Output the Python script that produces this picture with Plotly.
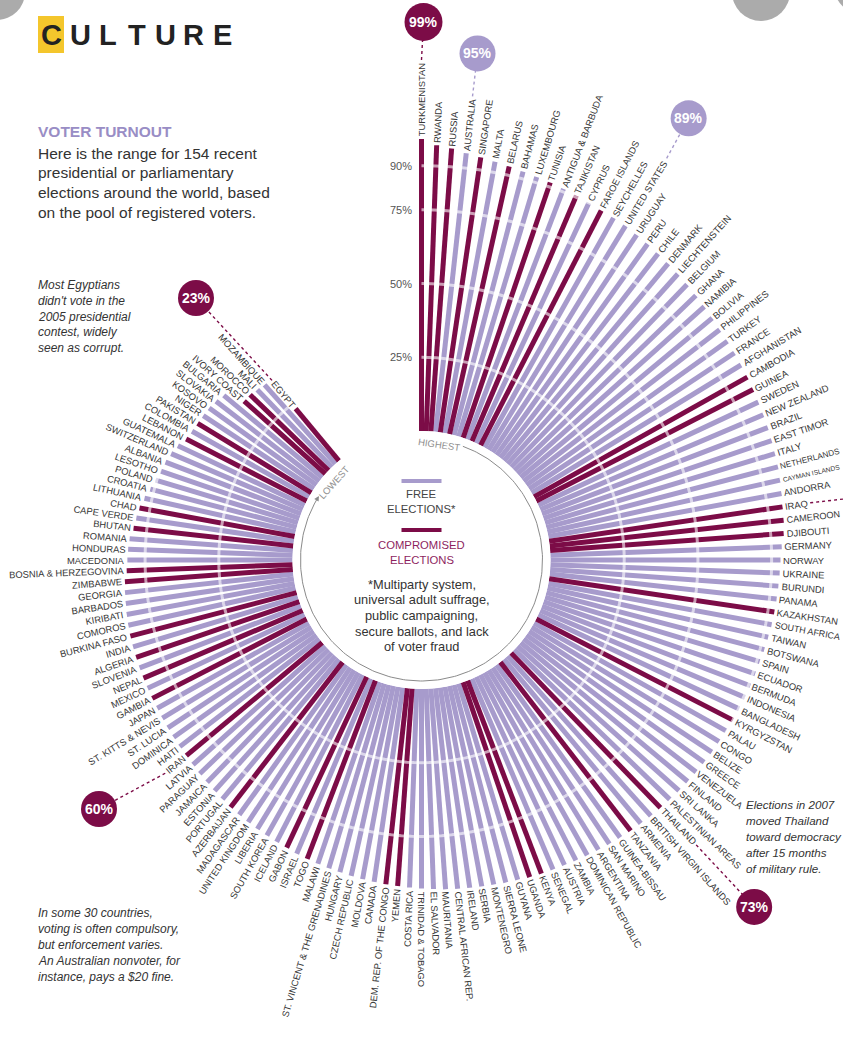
import math
import numpy as np
import plotly.graph_objects as go

W, H = 843, 1039

# ---------------- data ----------------
countries = [
    "TURKMENISTAN", "RWANDA", "RUSSIA", "AUSTRALIA", "SINGAPORE", "MALTA", "BELARUS", "BAHAMAS",
    "LUXEMBOURG", "TUNISIA", "ANTIGUA & BARBUDA", "TAJIKISTAN", "CYPRUS", "FAROE ISLANDS",
    "SEYCHELLES", "UNITED STATES", "URUGUAY", "PERU", "CHILE", "DENMARK", "LIECHTENSTEIN",
    "BELGIUM", "GHANA", "NAMIBIA", "BOLIVIA", "PHILIPPINES", "TURKEY", "FRANCE", "AFGHANISTAN",
    "CAMBODIA", "GUINEA", "SWEDEN", "NEW ZEALAND", "BRAZIL", "EAST TIMOR", "ITALY", "NETHERLANDS",
    "CAYMAN ISLANDS", "ANDORRA", "IRAQ", "CAMEROON", "DJIBOUTI", "GERMANY", "NORWAY", "UKRAINE",
    "BURUNDI", "PANAMA", "KAZAKHSTAN", "SOUTH AFRICA", "TAIWAN", "BOTSWANA", "SPAIN", "ECUADOR",
    "BERMUDA", "INDONESIA", "BANGLADESH", "KYRGYZSTAN", "PALAU", "CONGO", "BELIZE", "GREECE",
    "VENEZUELA", "FINLAND", "SRI LANKA", "PALESTINIAN AREAS", "THAILAND", "BRITISH VIRGIN ISLANDS",
    "ARMENIA", "TANZANIA", "GUINEA-BISSAU", "SAN MARINO", "ARGENTINA", "DOMINICAN REPUBLIC",
    "ZAMBIA", "AUSTRIA", "SENEGAL", "KENYA", "UGANDA", "GUYANA", "SIERRA LEONE", "MONTENEGRO",
    "SERBIA", "IRELAND", "CENTRAL AFRICAN REP.", "MAURITANIA", "EL SALVADOR", "TRINIDAD & TOBAGO",
    "COSTA RICA", "YEMEN", "DEM. REP. OF THE CONGO", "CANADA", "MOLDOVA", "CZECH REPUBLIC",
    "HUNGARY", "ST. VINCENT & THE GRENADINES", "MALAWI", "TOGO", "ISRAEL", "GABON", "ICELAND",
    "SOUTH KOREA", "LIBERIA", "UNITED KINGDOM", "MADAGASCAR", "AZERBAIJAN", "PORTUGAL", "ESTONIA",
    "JAMAICA", "PARAGUAY", "LATVIA", "IRAN", "HAITI", "DOMINICA", "ST. LUCIA", "ST. KITTS & NEVIS",
    "JAPAN", "GAMBIA", "MEXICO", "NEPAL", "SLOVENIA", "ALGERIA", "INDIA", "BURKINA FASO",
    "COMOROS", "KIRIBATI", "BARBADOS", "GEORGIA", "ZIMBABWE", "BOSNIA & HERZEGOVINA", "MACEDONIA",
    "HONDURAS", "ROMANIA", "BHUTAN", "CAPE VERDE", "CHAD", "LITHUANIA", "CROATIA", "POLAND",
    "LESOTHO", "ALBANIA", "SWITZERLAND", "GUATEMALA", "LEBANON", "COLOMBIA", "PAKISTAN", "NIGER",
    "KOSOVO", "SLOVAKIA", "BULGARIA", "IVORY COAST", "MOROCCO", "MALI", "MOZAMBIQUE", "EGYPT",
]

turnout = [
    99, 97, 96.2, 95, 94.3, 93.6, 93, 92.4,
    91.9, 91.5, 91, 90.5, 90, 89.6,
    89.3, 89, 88.5, 88, 87.5, 87, 86.5,
    86, 85.5, 85, 84.5, 84, 83.8, 83.5, 83.2,
    83, 82.7, 82.4, 82.2, 82, 81.7, 81.4, 81.2,
    80.8, 80.4, 80, 79.8, 79.4, 78.5, 78, 77.8,
    77.6, 77.4, 77.2, 77, 76.7, 76.4, 76, 75.8,
    75.6, 75.4, 75.2, 75, 74.7, 74.5, 74.3, 74.1,
    73.9, 73.7, 73.5, 73.2, 73, 72.8,
    72.5, 72.3, 72, 71.7, 71.4, 71.1,
    70.8, 70.5, 70.3, 70.1, 69.9, 69.5, 69.3, 69,
    68.8, 68.6, 68.4, 68.2, 67.9, 67.7,
    67.4, 67.1, 66.9, 66.6, 66.3, 66,
    65.7, 65.4, 65.1, 64.8, 64.5, 64, 63.7,
    63.4, 63.1, 62.8, 62.5, 62.2, 61.8, 61.4,
    61, 60.7, 60.3, 60, 59.8, 59.6, 59.4, 59.2,
    59, 58.9, 58.8, 58.7, 58.6, 58.5, 58.4, 58.3,
    58.1, 57.9, 57.6, 57.4, 57.1, 56.3, 56,
    55.8, 55.5, 54.5, 54, 53.5, 52.5, 51.3, 50.4,
    49.7, 49.2, 48.5, 47.5, 46, 45.5, 45.2, 45,
    44.8, 44.3, 43.5, 37, 37, 36.5, 36, 23,
]

compromised = [
    "TURKMENISTAN", "RWANDA", "RUSSIA", "SINGAPORE", "BELARUS", "TUNISIA", "TAJIKISTAN",
    "FAROE ISLANDS", "CAMBODIA", "GUINEA", "IRAQ", "CAMEROON", "DJIBOUTI", "KAZAKHSTAN",
    "KYRGYZSTAN", "THAILAND", "TANZANIA", "KENYA", "UGANDA", "YEMEN", "DEM. REP. OF THE CONGO",
    "TOGO", "GABON", "AZERBAIJAN", "IRAN", "GAMBIA", "NEPAL", "ALGERIA", "BURKINA FASO",
    "ZIMBABWE", "BOSNIA & HERZEGOVINA", "BHUTAN", "CHAD", "LEBANON", "PAKISTAN", "IVORY COAST",
    "MOROCCO", "EGYPT",
]

grid_values = [25, 50, 75, 90]
grid_labels = ["25%", "50%", "75%", "90%"]

callout_names = ["TURKMENISTAN", "AUSTRALIA", "UNITED STATES", "IRAQ", "THAILAND", "IRAN", "EGYPT"]
callout_texts = ["99%", "95%", "89%", "", "73%", "60%", "23%"]

# ---------------- styling / geometry ----------------
LIGHT = "#a79bcc"
DARK = "#7c0c47"
DARK_TXT = "#8e1f5f"
LAV_TXT = "#998dc5"
FONT = "Liberation Sans, Arial, sans-serif"
NARROW = "Liberation Sans Narrow, Arial Narrow, Liberation Sans, Arial, sans-serif"

CX = W / 2.0
CY = 560.0
R = W / 2.0
R0 = 129.0
RMAX = 99.2
SCALE = (R - R0) / RMAX
PERIOD = 172
STEP = 360.0 / PERIOD
GAP = 3.0
LABEL_SIZE = 9.4

bubble_place = {
    "TURKMENISTAN": ("rel", 2, -38, 19),
    "AUSTRALIA": ("rel", 5, -43, 18),
    "UNITED STATES": ("rel", 22, -40, 18),
    "IRAQ": ("rel", 53, -6, 20),
    "THAILAND": ("rel", 58, 62, 18),
    "IRAN": ("abs", 99, 809, 18),
    "EGYPT": ("abs", 196, 298, 18),
}

EM = {'A': .667, 'B': .667, 'C': .722, 'D': .722, 'E': .667, 'F': .611, 'G': .778, 'H': .722,
      'I': .278, 'J': .5, 'K': .667, 'L': .556, 'M': .833, 'N': .722, 'O': .778, 'P': .667,
      'Q': .778, 'R': .722, 'S': .667, 'T': .611, 'U': .722, 'V': .667, 'W': .944, 'X': .667,
      'Y': .667, 'Z': .611, ' ': .278, '.': .278, '&': .667, '-': .333}


def em_width(s):
    return sum(EM.get(ch, 0.6) for ch in s)


def polar_xy(phi_deg, r):
    a = math.radians(phi_deg)
    return CX + r * math.sin(a), CY - r * math.cos(a)


def room_along_ray(phi_deg, r_start, pad=3):
    """Radial distance available from r_start before leaving the canvas."""
    a = math.radians(phi_deg)
    dx, dy = math.sin(a), -math.cos(a)
    lim = 1e9
    if dx > 1e-6:
        lim = min(lim, (W - pad - CX) / dx)
    if dx < -1e-6:
        lim = min(lim, (pad - CX) / dx)
    if dy > 1e-6:
        lim = min(lim, (H - pad - CY) / dy)
    if dy < -1e-6:
        lim = min(lim, (pad - CY) / dy)
    return lim - r_start


comp_set = set(compromised)

# ---------------- traces ----------------
free_r, free_t, comp_r, comp_t = [], [], [], []
for name, v in zip(countries, turnout):
    if name in comp_set:
        comp_r += [0, v, None]
        comp_t += [name, name, None]
    else:
        free_r += [0, v, None]
        free_t += [name, name, None]

grid_r, grid_t = [], []
for g in grid_values:
    grid_r += [g] * len(countries) + [None]
    grid_t += list(countries) + [None]

fig = go.Figure()

ARC_R = 121
arc_phi = np.linspace(20, 298, 240)
arc_x = [polar_xy(p, ARC_R)[0] for p in arc_phi]
arc_y = [polar_xy(p, ARC_R)[1] for p in arc_phi]
fig.add_trace(go.Scatter(x=arc_x, y=arc_y, mode="lines", line=dict(color="#8a8a8a", width=1),
                         hoverinfo="skip", showlegend=False, xaxis="x", yaxis="y"))

fig.add_trace(go.Scatterpolar(r=free_r, theta=free_t, mode="lines",
                              line=dict(color=LIGHT, width=5), hoverinfo="skip", showlegend=False))
fig.add_trace(go.Scatterpolar(r=comp_r, theta=comp_t, mode="lines",
                              line=dict(color=DARK, width=5), hoverinfo="skip", showlegend=False))
fig.add_trace(go.Scatterpolar(r=grid_r, theta=grid_t, mode="lines",
                              line=dict(color="rgba(255,255,255,0.6)", width=3),
                              hoverinfo="skip", showlegend=False))

annotations = []
shapes = []


def txt(x, y, s, size=11, color="#333", anchor="left", angle=0, family=FONT, yanchor="middle"):
    annotations.append(dict(x=x, y=y, xref="x", yref="y", text=s, showarrow=False,
                            xanchor=anchor, yanchor=yanchor, textangle=angle,
                            font=dict(family=family, size=size, color=color)))


label_end = {}
for i, (name, v) in enumerate(zip(countries, turnout)):
    phi = i * STEP
    r_end = R0 + v * SCALE
    r_lab = r_end + GAP
    size = LABEL_SIZE
    room = room_along_ray(phi, r_lab)
    if em_width(name) * size > room:
        size = max(6.5, room / em_width(name))
    x, y = polar_xy(phi, r_lab)
    disp = name.replace("&", "&amp;")
    inv = '<span style="color:rgba(0,0,0,0)">' + disp + '</span>'
    if phi <= 180.01:
        ang = phi - 90
        s = inv + disp
    else:
        ang = phi - 270
        s = disp + inv
    txt(x, y, s, size=size, color="#353535", anchor="center", angle=ang)
    label_end[name] = polar_xy(phi, r_lab + em_width(name) * size + 2)

for name, lab in zip(callout_names, callout_texts):
    mode, a, b, rad = bubble_place[name]
    ex, ey = label_end[name]
    if mode == "rel":
        bx, by = ex + a, ey + b
    else:
        bx, by = a, b
    col = DARK if name in comp_set else LIGHT
    shapes.append(dict(type="line", xref="x", yref="y", x0=ex, y0=ey, x1=bx, y1=by,
                       line=dict(color=col, width=1.4, dash="dot")))
    shapes.append(dict(type="circle", xref="x", yref="y", x0=bx - rad, x1=bx + rad,
                       y0=by - rad, y1=by + rad, fillcolor=col, line=dict(width=0)))
    if lab:
        txt(bx, by, "<b>" + lab + "</b>", size=14, color="white", anchor="center", family=NARROW)

for g, gl in zip(grid_values, grid_labels):
    txt(CX - 8, CY - (R0 + g * SCALE), gl, size=11, color="#555", anchor="right")

hx, hy = polar_xy(8.5, 117)
txt(hx, hy, "HIGHEST", size=9.5, color="#8f8f8f", anchor="center", angle=8.5)
lx, ly = polar_xy(311.5, 117)
txt(lx, ly, "LOWEST", size=9.5, color="#8f8f8f", anchor="center", angle=-48.5)
tipx, tipy = polar_xy(302, ARC_R)
tailx, taily = polar_xy(297, ARC_R)
annotations.append(dict(x=tipx, y=tipy, xref="x", yref="y", ax=tailx, ay=taily,
                        axref="x", ayref="y", text="", showarrow=True, arrowhead=2,
                        arrowsize=1, arrowwidth=1, arrowcolor="#8a8a8a"))

shapes.append(dict(type="line", xref="x", yref="y", x0=CX - 20, x1=CX + 20, y0=481, y1=481,
                   line=dict(color=LIGHT, width=4)))
shapes.append(dict(type="line", xref="x", yref="y", x0=CX - 20, x1=CX + 20, y0=530, y1=530,
                   line=dict(color=DARK, width=4)))
txt(CX, 494, "FREE", size=11.3, color="#444", anchor="center")
txt(CX, 509, "ELECTIONS*", size=11.3, color="#444", anchor="center")
txt(CX, 545, "COMPROMISED", size=11.3, color=DARK_TXT, anchor="center")
txt(CX, 560, "ELECTIONS", size=11.3, color=DARK_TXT, anchor="center")
foot = ["*Multiparty system,", "universal adult suffrage,", "public campaigning,",
        "secure ballots, and lack", "of voter fraud"]
for k, line in enumerate(foot):
    txt(CX, 584 + k * 15.7, line, size=12.8, color="#333", anchor="center")

shapes.append(dict(type="rect", xref="x", yref="y", x0=38, x1=64, y0=16, y1=53,
                   fillcolor="#f4c62c", line=dict(width=0), layer="below"))
for ch, lx_ in zip("CULTURE", [51, 80, 108, 137, 165, 193, 222]):
    txt(lx_, 35, "<b>" + ch + "</b>", size=29, color="#222", anchor="center")

txt(36, 131, "<b>VOTER TURNOUT</b>", size=15.5, color=LAV_TXT)
body = ["Here is the range for 154 recent", "presidential or parliamentary",
        "elections around the world, based", "on the pool of registered voters."]
for k, line in enumerate(body):
    txt(36, 153 + k * 19.8, line, size=15.5, color="#333")

note1 = ["Most Egyptians", "didn't vote in the", "2005 presidential", "contest, widely",
         "seen as corrupt."]
for k, line in enumerate(note1):
    txt(36, 285 + k * 15.8, "<i>" + line + "</i>", size=12, color="#333")

note2 = ["In some 30 countries,", "voting is often compulsory,", "but enforcement varies.",
         "An Australian nonvoter, for", "instance, pays a $20 fine."]
for k, line in enumerate(note2):
    txt(36, 913 + k * 16, "<i>" + line + "</i>", size=12, color="#333")

note3 = ["Elections in 2007", "moved Thailand", "toward democracy", "after 15 months",
         "of military rule."]
for k, line in enumerate(note3):
    txt(744, 804 + k * 16, "<i>" + line + "</i>", size=11.6, color="#333")

for (gx, gy, gr) in [(-3, -8, 28), (761, -8, 29), (862, -14, 28)]:
    shapes.append(dict(type="circle", xref="x", yref="y", x0=gx - gr, x1=gx + gr,
                       y0=gy - gr, y1=gy + gr, fillcolor="rgba(150,150,150,0.8)",
                       line=dict(width=0)))

cy_frac = 1 - CY / H
fig.update_layout(
    width=W, height=H, margin=dict(l=0, r=0, t=0, b=0),
    paper_bgcolor="white", plot_bgcolor="white", showlegend=False,
    xaxis=dict(range=[0, W], visible=False, domain=[0, 1], fixedrange=True),
    yaxis=dict(range=[H, 0], visible=False, domain=[0, 1], fixedrange=True),
    polar=dict(
        domain=dict(x=[0, 1], y=[cy_frac - 0.45, cy_frac + 0.45]),
        hole=R0 / R,
        bgcolor="rgba(0,0,0,0)",
        radialaxis=dict(range=[0, RMAX], showgrid=False, showticklabels=False,
                        showline=False, ticks=""),
        angularaxis=dict(type="category", categoryorder="array", categoryarray=countries,
                         period=PERIOD, direction="clockwise", rotation=90,
                         showgrid=False, showticklabels=False, showline=False, ticks=""),
    ),
    annotations=annotations,
    shapes=shapes,
)

fig.write_html("out.html")
